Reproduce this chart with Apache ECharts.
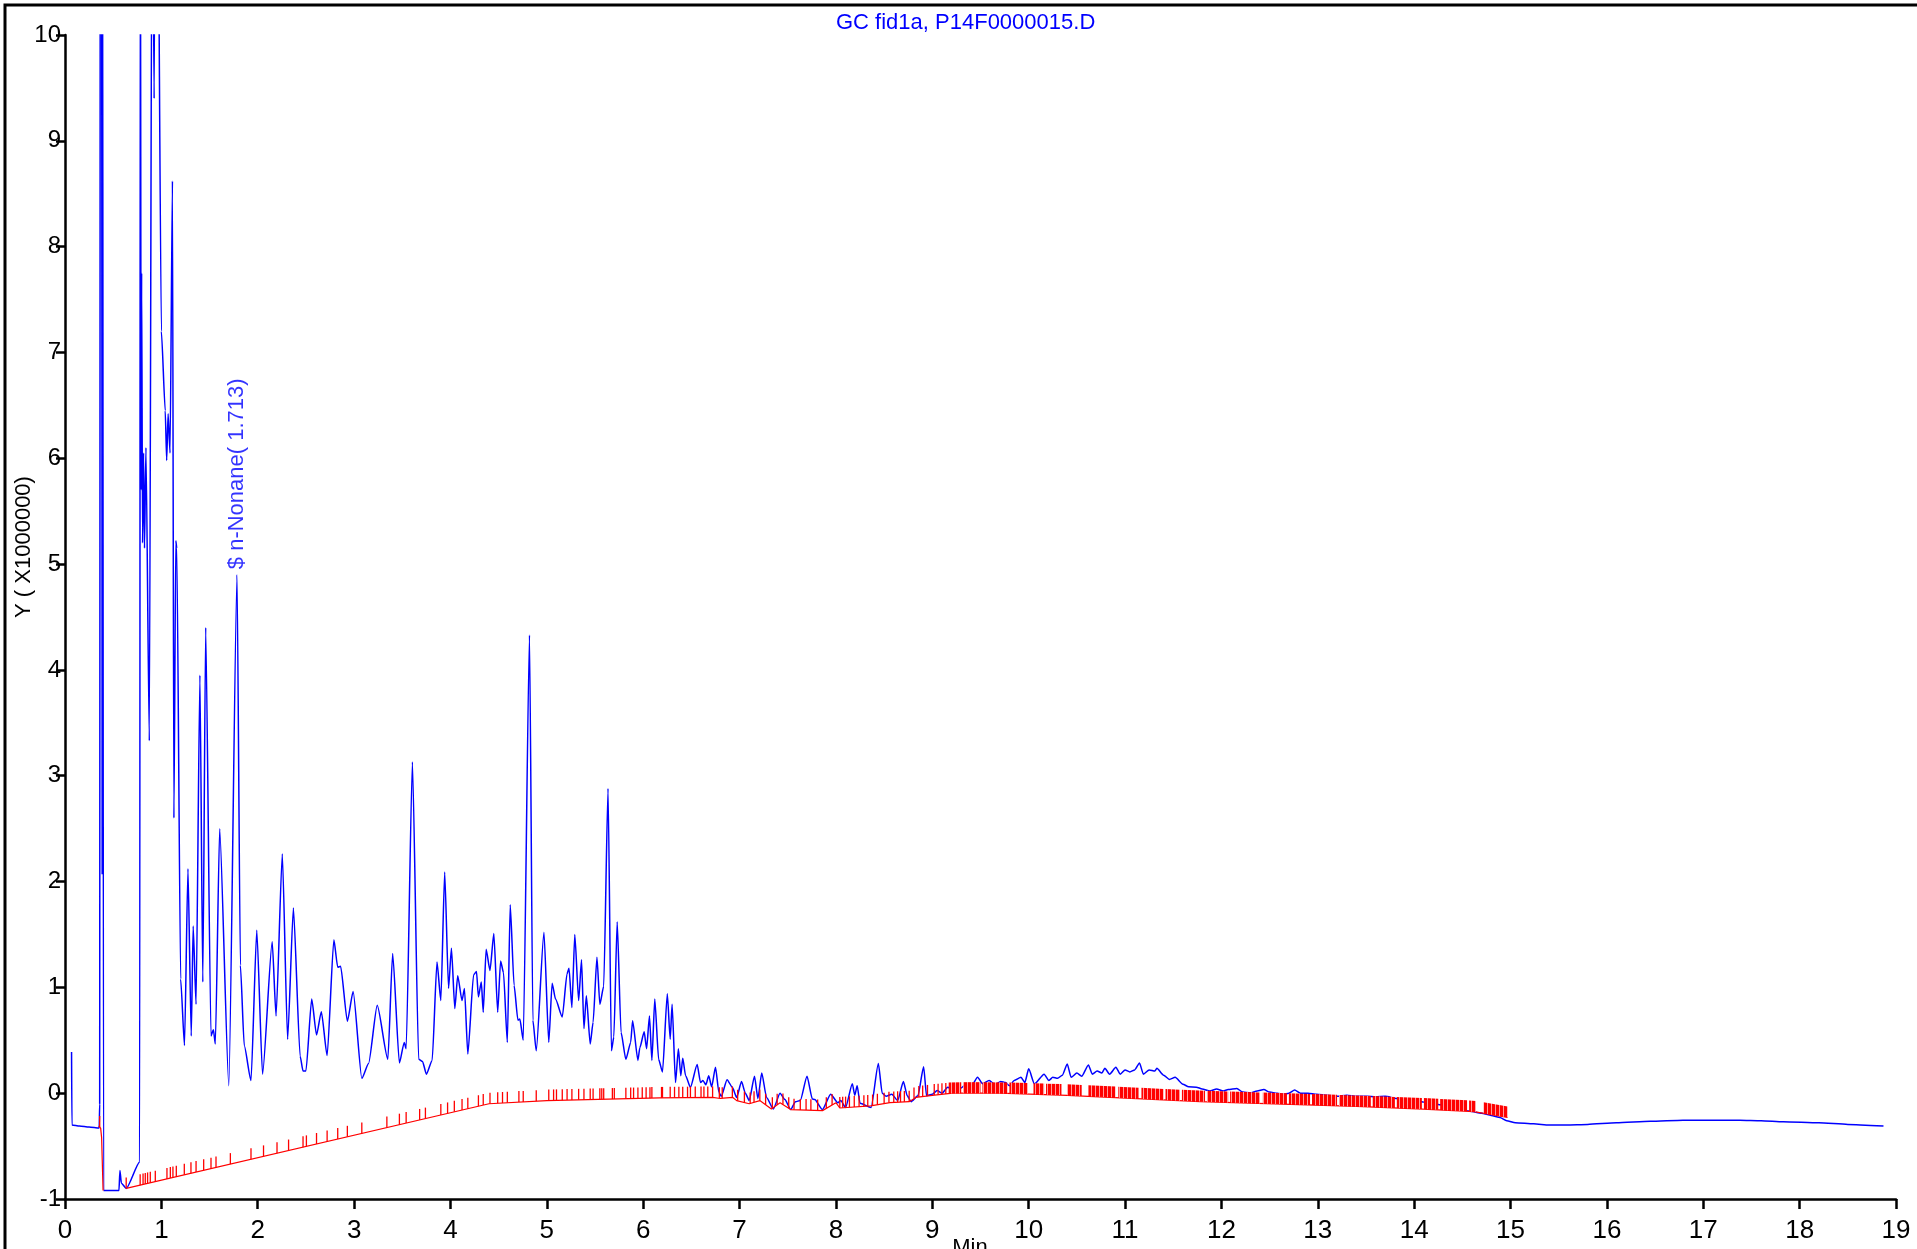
<!DOCTYPE html>
<html>
<head>
<meta charset="utf-8">
<script src="https://cdn.jsdelivr.net/npm/echarts@6/dist/echarts.min.js"></script>
<style>
  html, body { margin: 0; padding: 0; background: #fff; }
  #chart { width: 1917px; height: 1249px; }
</style>
</head>
<body>
<div id="chart"></div>
<script>
// FID signal, [min, value x1e6]
const signalData = [
  [0.068, 0.39], [0.072, -0.30], [0.15, -0.31], [0.25, -0.32], [0.355, -0.33], [0.36, -0.10],
  [0.366, 12], [0.38, 12], [0.386, 2.07], [0.39, 12], [0.395, 12], [0.40, -0.92],
  [0.56, -0.92], [0.57, -0.73], [0.585, -0.85], [0.635, -0.90], [0.775, -0.65], [0.782, 12],
  [0.79, 5.7], [0.795, 7.75], [0.805, 5.2], [0.815, 6.05], [0.825, 5.15], [0.84, 6.1], [0.875, 3.33],
  [0.905, 12], [0.925, 9.4], [0.935, 12], [0.96, 12], [1.0, 7.2], [1.04, 6.45], [1.055, 5.98],
  [1.07, 6.42], [1.09, 6.05], [1.115, 8.62], [1.13, 2.6], [1.15, 5.22], [1.16, 5.15], [1.2, 1.08],
  [1.24, 0.45], [1.276, 2.12], [1.31, 0.54], [1.33, 1.58], [1.36, 0.84], [1.40, 3.95], [1.43, 1.05],
  [1.46, 4.4], [1.515, 0.54], [1.54, 0.6], [1.56, 0.465], [1.605, 2.5], [1.70, 0.07], [1.785, 4.9],
  [1.82, 1.21], [1.86, 0.45], [1.93, 0.12], [1.99, 1.54], [2.05, 0.18], [2.15, 1.43], [2.19, 0.73],
  [2.255, 2.26], [2.31, 0.51], [2.37, 1.75], [2.44, 0.35], [2.47, 0.21], [2.50, 0.21], [2.56, 0.89],
  [2.61, 0.55], [2.66, 0.77], [2.72, 0.355], [2.79, 1.45], [2.83, 1.19], [2.86, 1.2], [2.93, 0.68],
  [2.99, 0.96], [3.08, 0.14], [3.15, 0.28], [3.24, 0.83], [3.35, 0.32], [3.40, 1.32], [3.47, 0.285],
  [3.52, 0.48], [3.54, 0.42], [3.605, 3.13], [3.67, 0.32], [3.71, 0.30], [3.75, 0.18], [3.81, 0.31],
  [3.86, 1.24], [3.90, 0.875], [3.94, 2.09], [3.98, 0.99], [4.01, 1.37], [4.045, 0.80], [4.075, 1.11],
  [4.12, 0.875], [4.145, 0.99], [4.18, 0.37], [4.24, 1.12], [4.27, 1.15], [4.29, 0.91], [4.32, 1.05],
  [4.34, 0.765], [4.37, 1.36], [4.41, 1.16], [4.45, 1.51], [4.49, 0.765], [4.52, 1.25], [4.55, 1.14],
  [4.59, 0.48], [4.62, 1.78], [4.66, 1.02], [4.70, 0.69], [4.72, 0.70], [4.755, 0.50], [4.82, 4.33],
  [4.855, 0.69], [4.89, 0.40], [4.97, 1.52], [5.02, 0.48], [5.055, 1.04], [5.09, 0.89], [5.16, 0.72],
  [5.21, 1.13], [5.23, 1.18], [5.26, 0.81], [5.29, 1.50], [5.33, 0.875], [5.36, 1.26], [5.385, 0.61],
  [5.41, 0.92], [5.45, 0.465], [5.48, 0.67], [5.52, 1.285], [5.55, 0.84], [5.59, 1.01], [5.635, 2.88],
  [5.67, 0.40], [5.695, 0.53], [5.73, 1.62], [5.77, 0.575], [5.82, 0.32], [5.87, 0.48], [5.89, 0.685],
  [5.945, 0.31], [5.965, 0.43], [6.01, 0.58], [6.035, 0.42], [6.065, 0.73], [6.09, 0.31], [6.12, 0.89],
  [6.16, 0.32], [6.20, 0.20], [6.25, 0.94], [6.28, 0.51], [6.30, 0.84], [6.335, 0.10], [6.365, 0.42],
  [6.39, 0.165], [6.41, 0.33], [6.44, 0.165], [6.49, 0.055], [6.56, 0.27], [6.595, 0.10], [6.62, 0.12],
  [6.65, 0.08], [6.68, 0.165], [6.71, 0.06], [6.75, 0.245], [6.785, 0.01], [6.81, -0.03], [6.87, 0.128],
  [6.925, 0.055], [6.97, -0.04], [7.02, 0.11], [7.06, 0.0], [7.10, -0.07], [7.155, 0.16], [7.19, -0.05],
  [7.23, 0.19], [7.28, -0.04], [7.35, -0.15], [7.42, 0.0], [7.47, -0.06], [7.53, -0.155], [7.58, -0.08],
  [7.63, -0.07], [7.70, 0.16], [7.755, -0.055], [7.78, -0.06], [7.86, -0.155], [7.945, -0.01],
  [8.02, -0.09], [8.05, -0.07], [8.10, -0.135], [8.17, 0.09], [8.195, -0.02], [8.22, 0.07], [8.25, -0.095],
  [8.365, -0.135], [8.44, 0.28], [8.48, 0.0], [8.52, -0.03], [8.58, -0.01], [8.64, -0.07], [8.70, 0.11],
  [8.74, -0.025], [8.78, -0.08], [8.85, -0.025], [8.91, 0.25], [8.94, -0.025], [9.0, -0.01], [9.05, 0.025],
  [9.10, 0.0], [9.16, 0.055], [9.21, 0.03], [9.26, 0.07], [9.30, 0.05], [9.35, 0.085], [9.40, 0.06],
  [9.47, 0.15], [9.52, 0.09], [9.59, 0.12], [9.65, 0.08], [9.71, 0.11], [9.76, 0.10], [9.80, 0.07],
  [9.85, 0.12], [9.92, 0.15], [9.96, 0.10], [10.00, 0.23], [10.06, 0.087], [10.16, 0.18], [10.21, 0.12],
  [10.25, 0.15], [10.30, 0.14], [10.35, 0.17], [10.40, 0.276], [10.44, 0.15], [10.50, 0.19], [10.55, 0.16],
  [10.62, 0.267], [10.66, 0.18], [10.71, 0.21], [10.76, 0.19], [10.79, 0.235], [10.84, 0.18],
  [10.905, 0.245], [10.95, 0.18], [11.00, 0.22], [11.05, 0.20], [11.10, 0.22], [11.15, 0.285],
  [11.19, 0.18], [11.25, 0.22], [11.31, 0.21], [11.33, 0.235], [11.40, 0.17], [11.46, 0.13], [11.52, 0.15],
  [11.60, 0.085], [11.66, 0.06], [11.74, 0.057], [11.80, 0.04], [11.88, 0.02], [11.95, 0.04], [12.02, 0.02],
  [12.07, 0.035], [12.16, 0.045], [12.22, 0.01], [12.30, 0.003], [12.37, 0.02], [12.44, 0.035],
  [12.50, 0.01], [12.58, 0.0], [12.64, -0.01], [12.70, 0.0], [12.76, 0.03], [12.82, 0.0], [12.90, 0.0],
  [12.99, -0.01], [13.10, -0.02], [13.20, -0.03], [13.30, -0.02], [13.40, -0.03], [13.51, -0.03],
  [13.60, -0.035], [13.70, -0.03], [13.82, -0.05], [13.92, -0.06], [14.03, -0.075], [14.15, -0.09],
  [14.27, -0.11], [14.37, -0.13], [14.48, -0.15], [14.58, -0.17], [14.70, -0.19], [14.80, -0.21],
  [14.89, -0.23], [14.96, -0.26], [15.05, -0.28], [15.24, -0.29], [15.40, -0.30], [15.58, -0.30],
  [15.80, -0.295], [16.10, -0.28], [16.45, -0.265], [16.79, -0.255], [17.10, -0.255], [17.38, -0.255],
  [17.60, -0.26], [17.83, -0.27], [18.20, -0.28], [18.50, -0.295], [18.87, -0.31]
]

// integration baseline, two pieces
const baselineA = [[0.35, -0.31], [0.37, -0.33], [0.38, -0.42], [0.395, -0.92]]
const baselineB = [
  [0.635, -0.90], [4.40, -0.10], [5.0, -0.07], [6.17, -0.045], [6.72, -0.04], [6.80, -0.05],
  [6.93, -0.04], [6.97, -0.07], [7.10, -0.10], [7.21, -0.07], [7.33, -0.15], [7.42, -0.09],
  [7.53, -0.155], [7.86, -0.165], [8.00, -0.09], [8.04, -0.14], [8.36, -0.12], [8.56, -0.09],
  [8.76, -0.08], [8.83, -0.04], [9.0, -0.02], [9.21, 0.0], [9.7, 0.0], [10.4, -0.02],
  [11.78, -0.08], [13.4, -0.125], [14.09, -0.15], [14.62, -0.175], [14.97, -0.23]
]

// peak start/stop marks
const peakTicks = [
  0.36, 0.635, 0.78, 0.81, 0.833, 0.857, 0.885, 0.937, 1.058, 1.093, 1.12, 1.155, 1.238, 1.307,
  1.36, 1.439, 1.515, 1.567, 1.716, 1.93, 2.06, 2.2, 2.32, 2.47, 2.505, 2.61, 2.72, 2.83, 2.93,
  3.08, 3.34, 3.47, 3.54, 3.68, 3.74, 3.90, 3.97, 4.04, 4.12, 4.18, 4.29, 4.34, 4.41, 4.49, 4.54,
  4.59, 4.71, 4.755, 4.89, 5.02, 5.07, 5.10, 5.16, 5.21, 5.26, 5.33, 5.385, 5.45, 5.48, 5.55, 5.57,
  5.59, 5.68, 5.70, 5.82, 5.87, 5.90, 5.945, 5.99, 6.03, 6.07, 6.09, 6.19, 6.20, 6.28, 6.325, 6.37,
  6.41, 6.46, 6.49, 6.54, 6.60, 6.63, 6.67, 6.72, 6.79, 6.82, 6.925, 6.98, 7.05, 7.11, 7.15, 7.21,
  7.27, 7.34, 7.39, 7.45, 7.51, 7.565, 7.63, 7.69, 7.74, 7.81, 7.90, 7.96, 8.04, 8.07, 8.10, 8.14,
  8.19, 8.24, 8.29, 8.33, 8.38, 8.43, 8.50, 8.55, 8.60, 8.64, 8.67, 8.71, 8.76, 8.81, 8.86, 8.90,
  8.95, 9.02, 9.06, 9.10, 9.14
]

// runs of marks so close together they read as a comb
const tickBands = [
  [9.17, 9.30], [9.32, 9.50], [9.52, 9.78], [9.80, 9.99], [10.05, 10.16], [10.18, 10.34],
  [10.40, 10.55], [10.62, 10.90], [10.93, 11.14], [11.17, 11.40], [11.42, 11.57], [11.59, 11.83],
  [11.85, 12.07], [12.09, 12.40], [12.43, 12.68], [12.70, 12.92], [12.94, 13.20], [13.22, 13.55],
  [13.57, 13.80], [13.82, 14.08], [14.10, 14.25], [14.27, 14.55], [14.57, 14.64], [14.72, 14.97]
]

const nonanePeak = [1.785, 4.9]
const nonaneLabel = '$ n-Nonane( 1.713)'

const FONT = "'Liberation Sans', Arial, sans-serif"
const NARROW = "'Liberation Sans Narrow', 'Arial Narrow', 'Liberation Sans', sans-serif"
const TICK_H = 11

// baseline value at a time, used to stand the marks on the baseline
const baseAt = t => {
  const line = t <= baselineA[baselineA.length - 1][0] ? baselineA : baselineB
  for (let i = 0; i < line.length - 1; i++) {
    const a = line[i], b = line[i + 1]
    if (t >= a[0] && t <= b[0]) return a[1] + (b[1] - a[1]) * (t - a[0]) / (b[0] - a[0])
  }
  return t < line[0][0] ? line[0][1] : line[line.length - 1][1]
}

// striped fill so the dense runs look like many thin marks
const combCanvas = document.createElement('canvas')
combCanvas.width = 4
combCanvas.height = 4
const cctx = combCanvas.getContext('2d')
cctx.fillStyle = '#ff9a9a'
cctx.fillRect(0, 0, 4, 4)
cctx.fillStyle = '#ff0000'
cctx.fillRect(0, 0, 3, 4)

const chart = echarts.init(document.getElementById('chart'))

const option = {
  animation: false,
  backgroundColor: '#fff',
  title: {
    text: 'GC fid1a, P14F0000015.D',
    left: 831,
    top: 7,
    textStyle: { color: '#0000ff', fontSize: 22, fontWeight: 'normal', fontFamily: FONT }
  },
  grid: { left: 65, right: 21, top: 35, bottom: 50, containLabel: false },
  xAxis: {
    type: 'value',
    min: 0,
    max: 19,
    interval: 1,
    splitLine: { show: false },
    axisLine: { onZero: false, lineStyle: { color: '#000', width: 2.5 } },
    axisTick: { inside: false, length: 10, lineStyle: { color: '#000', width: 2.5 } },
    axisLabel: { margin: 19, color: '#000', fontSize: 26, fontFamily: NARROW }
  },
  yAxis: {
    type: 'value',
    min: -1,
    max: 10,
    interval: 1,
    splitLine: { show: false },
    axisLine: { onZero: false, lineStyle: { color: '#000', width: 2.5 } },
    axisTick: { inside: false, length: 9, lineStyle: { color: '#000', width: 2.5 } },
    axisLabel: { margin: 4, color: '#000', fontSize: 24, fontFamily: NARROW, padding: [8, 0, 0, 0] }
  },
  graphic: [
    {
      type: 'rect',
      shape: { x: 5, y: 5, width: 2000, height: 1400 },
      style: { fill: 'none', stroke: '#000', lineWidth: 3 },
      silent: true
    },
    {
      type: 'text',
      x: 24,
      y: 547,
      rotation: Math.PI / 2,
      style: {
        text: 'Y ( X1000000)',
        fill: '#000',
        font: '22px ' + FONT,
        textAlign: 'center',
        textVerticalAlign: 'middle'
      }
    },
    {
      type: 'text',
      x: 970,
      y: 1237,
      style: { text: 'Min', fill: '#000', font: '22px ' + FONT, textAlign: 'center', textVerticalAlign: 'top' }
    }
  ],
  series: [
    {
      type: 'line',
      data: signalData,
      showSymbol: false,
      clip: true,
      smooth: 0.2,
      smoothMonotone: 'x',
      lineStyle: { color: '#0000ff', width: 1.5 },
      z: 2
    },
    {
      type: 'line',
      data: baselineA,
      showSymbol: false,
      lineStyle: { color: '#ff0000', width: 1.2 },
      z: 3
    },
    {
      type: 'line',
      data: baselineB,
      showSymbol: false,
      lineStyle: { color: '#ff0000', width: 1.2 },
      z: 3
    },
    {
      type: 'custom',
      data: peakTicks.map(t => [t, baseAt(t)]),
      encode: { x: 0, y: 1 },
      renderItem: (params, api) => {
        const p = api.coord([api.value(0), api.value(1)])
        return {
          type: 'line',
          shape: { x1: p[0], y1: p[1], x2: p[0], y2: p[1] - TICK_H },
          style: { stroke: '#ff0000', lineWidth: 1.3 }
        }
      },
      z: 4
    },
    {
      type: 'custom',
      data: tickBands.map(b => [b[0], baseAt(b[0]), b[1], baseAt(b[1])]),
      encode: { x: [0, 2], y: [1, 3] },
      renderItem: (params, api) => {
        const p0 = api.coord([api.value(0), api.value(1)])
        const p1 = api.coord([api.value(2), api.value(3)])
        return {
          type: 'polygon',
          shape: { points: [[p0[0], p0[1]], [p1[0], p1[1]], [p1[0], p1[1] - TICK_H], [p0[0], p0[1] - TICK_H]] },
          style: { fill: { image: combCanvas, repeat: 'repeat' } }
        }
      },
      z: 4
    },
    {
      type: 'scatter',
      data: [nonanePeak],
      symbolSize: 1,
      itemStyle: { color: 'rgba(0,0,0,0)' },
      label: {
        show: true,
        formatter: nonaneLabel,
        position: 'top',
        distance: 5,
        rotate: 90,
        align: 'left',
        verticalAlign: 'middle',
        color: '#0000ff',
        fontSize: 22,
        fontFamily: FONT
      },
      z: 5
    }
  ]
}

chart.setOption(option)
</script>
</body>
</html>
